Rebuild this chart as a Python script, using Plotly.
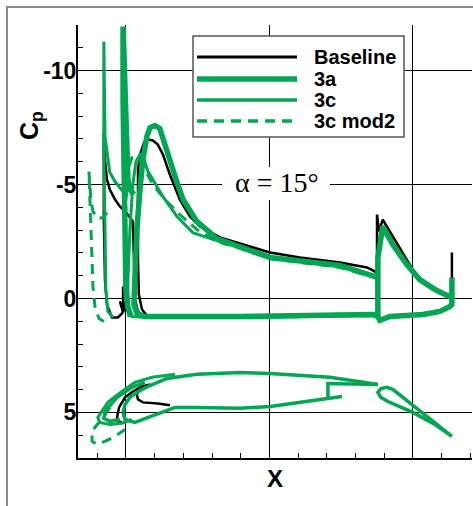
import plotly.graph_objects as go

GREEN = "#00A651"
BLACK = "#000000"

# ---------------- data (x/c , Cp) ----------------
# Baseline pressure distribution (slat, arrow, main, flap)
baseline_x = [-0.010, -0.028, -0.049, -0.066, -0.073, -0.077, -0.077, -0.077, -0.073, -0.066, -0.056, -0.038, -0.021, -0.003, 0.014, 0.024, 0.028, 0.031, 0.042, 0.059, None,
              -0.010, -0.010, -0.021, -0.010, 0.000, None,
              0.878, 0.868, 0.840, 0.746, 0.606, 0.502, 0.397, 0.328, 0.258, 0.223, 0.188, 0.153, 0.129, 0.111, 0.094, 0.077, 0.063, 0.049, 0.042, 0.042, 0.042, 0.045, 0.056, 0.073, 0.118, 0.397, 0.606, 0.861, 0.878, None,
              1.136, 1.136, 1.129, 1.094, 1.035, 0.920, 0.885, 0.875, 0.875, 0.875, 0.882, 0.895, 0.930, 0.979, 1.014, 1.059, 1.105, 1.136]
baseline_cp = [0.61, 0.83, 0.83, 0.26, -0.83, -3.46, -6.10, -7.28, -6.10, -5.22, -4.78, -4.34, -4.04, -3.82, -3.55, -3.38, -1.71, 0.04, 0.57, 0.75, None,
               -0.53, 0.61, 0.13, 0.61, 0.13, None,
               -1.05, -1.18, -1.36, -1.58, -1.80, -2.02, -2.41, -2.68, -3.16, -3.60, -4.34, -5.44, -6.32, -6.75, -6.93, -6.97, -6.84, -6.32, -5.66, -4.34, -1.71, -0.18, 0.48, 0.75, 0.79, 0.79, 0.75, 0.70, 0.75, None,
               -2.02, 0.13, 0.35, 0.57, 0.70, 0.79, 0.96, 0.75, -1.18, -3.68, -2.94, -3.46, -2.72, -1.71, -0.96, -0.48, -0.18, 0.04]

# Configuration 3a
c3a_x = [0.017, 0.007, 0.000, -0.003, -0.007, -0.010, -0.010, -0.003, 0.003, 0.007, 0.014, 0.028, None,
         0.878, 0.868, 0.746, 0.502, 0.432, 0.317, 0.247, 0.199, 0.178, 0.153, 0.136, 0.118, 0.101, 0.084, 0.073, 0.059, 0.049, 0.038, 0.031, 0.028, 0.038, 0.066, 0.397, 0.606, 0.861, 0.878, None,
         1.136, 1.136, 1.129, 1.094, 1.035, 0.920, 0.885, 0.878, 0.878, 0.895, 0.930, 0.979, 1.024, 1.077, 1.111, 1.136]
c3a_cp = [0.75, 0.39, -0.39, -2.59, -5.22, -8.73, -11.93, -9.17, -6.54, -5.22, -4.78, -4.56, None,
          -0.96, -0.96, -1.45, -1.80, -2.11, -2.63, -3.38, -4.34, -5.09, -6.10, -6.84, -7.46, -7.59, -7.50, -7.11, -6.10, -4.78, -3.03, -0.83, 0.26, 0.66, 0.79, 0.79, 0.75, 0.70, 0.79, None,
          -0.92, 0.26, 0.35, 0.57, 0.70, 0.79, 0.96, 0.79, -1.80, -3.16, -2.37, -1.49, -0.83, -0.39, -0.18, -0.04]

# Configuration 3c
c3c_x = [-0.045, -0.063, -0.070, -0.073, -0.077, -0.077, -0.073, -0.056, -0.038, -0.010, 0.007, None,
         0.878, 0.868, 0.746, 0.502, 0.432, 0.317, 0.233, 0.178, 0.129, 0.108, 0.077, 0.063, 0.049, 0.035, 0.024, 0.014, 0.007, 0.007, 0.021, 0.084, 0.397, 0.861, 0.878, None,
         1.136, 1.136, 1.129, 1.094, 1.035, 0.920, 0.885, 0.878, 0.878, 0.895, 0.930, 0.979, 1.024, 1.077, 1.111, 1.136]
c3c_cp = [0.83, 0.57, -0.39, -2.59, -6.54, -11.27, -7.11, -5.53, -5.13, -4.69, -4.52, None,
          -0.88, -0.96, -1.40, -1.80, -2.11, -2.54, -2.89, -3.60, -4.47, -4.91, -5.57, -6.10, -6.32, -6.01, -5.00, -3.03, -0.83, 0.39, 0.79, 0.83, 0.83, 0.75, 0.83, None,
          -0.90, 0.26, 0.35, 0.57, 0.70, 0.79, 0.96, 0.79, -1.80, -3.14, -2.35, -1.47, -0.81, -0.37, -0.16, -0.02]

# Configuration 3c mod2
c3cm2_x = [-0.077, -0.094, -0.108, -0.115, -0.118, -0.122, -0.125, -0.129, -0.122, -0.115, -0.098, -0.080, -0.063, None,
           0.878, 0.868, 0.746, 0.502, 0.432, 0.317, 0.247, 0.188, 0.136, 0.108, 0.084, 0.059, 0.038, 0.021, 0.007, 0.000, -0.003, -0.003, 0.010, 0.084, 0.397, 0.861, 0.878]
c3cm2_cp = [1.01, 0.88, 0.35, -0.53, -1.71, -3.46, -4.78, -5.57, -4.34, -3.82, -3.51, -3.55, -3.82, None,
            -0.83, -0.92, -1.36, -1.75, -2.06, -2.50, -3.03, -3.68, -4.34, -4.78, -5.22, -5.88, -6.23, -6.18, -5.66, -4.34, -2.15, 0.04, 0.75, 0.83, 0.83, 0.75, 0.83]

# Airfoil geometry drawn in the lower part of the chart
geo_main_x = [-0.010, -0.003, 0.014, 0.049, 0.084, 0.143, 0.247, 0.397, 0.502, 0.711, 0.878, None,
              -0.010, -0.003, 0.031, 0.059, 0.101, 0.171, 0.247, 0.397, 0.502, 0.606, 0.704, 0.753, None,
              0.704, 0.704, 0.878, None,
              1.136, 1.049, 0.979, 0.930, 0.909, 0.889, 0.878, 0.889, 0.913, 1.000, 1.077, 1.136]
geo_main_y = [5.00, 4.65, 4.34, 4.04, 3.82, 3.51, 3.33, 3.25, 3.29, 3.46, 3.77, None,
              5.00, 5.31, 5.44, 5.31, 5.09, 4.78, 4.78, 4.82, 4.74, 4.56, 4.39, 4.30, None,
              4.39, 3.73, 3.77, None,
              6.05, 5.18, 4.52, 3.99, 3.90, 3.95, 4.12, 4.34, 4.52, 5.00, 5.53, 6.05]
geo_base_x = [0.084, 0.056, 0.024, -0.003, -0.024, -0.031, -0.028, -0.014, None,
              0.049, 0.038, 0.042, 0.059, 0.111, 0.153]
geo_base_y = [3.77, 3.86, 4.08, 4.34, 4.78, 5.22, 5.39, 5.44, None,
              3.99, 4.21, 4.43, 4.56, 4.61, 4.69]
geo_3a_x = [0.066, 0.021, -0.031, -0.070, -0.077, -0.056, -0.021]
geo_3a_y = [3.68, 3.90, 4.34, 4.91, 5.26, 5.39, 5.31]
geo_3c_x = [0.171, 0.091, 0.031, -0.014, -0.063, -0.098, -0.091, -0.056, -0.014, 0.021]
geo_3c_y = [3.33, 3.46, 3.68, 4.08, 4.56, 5.22, 5.44, 5.53, 5.48, 5.31]
geo_3cm2_x = [-0.056, -0.080, -0.108, -0.118, -0.118, -0.101, -0.073, -0.038, -0.003]
geo_3cm2_y = [4.78, 5.22, 5.66, 5.83, 6.27, 6.40, 6.27, 6.05, 5.75]

legend_names = ["Baseline", "3a", "3c", "3c mod2"]
cp_tick_values = [-10, -5, 0, 5]
cp_tick_labels = ["-10", "-5", "0", "5"]

# ---------------- figure ----------------
fig = go.Figure()

def add(x, y, color, width, dash="solid"):
    fig.add_trace(go.Scatter(x=x, y=y, mode="lines", showlegend=False, hoverinfo="skip",
                             line=dict(color=color, width=width, dash=dash)))

DASH = "10px,7px"
add(geo_base_x, geo_base_y, BLACK, 2.5)
add(geo_main_x, geo_main_y, GREEN, 3.5)
add(geo_3a_x, geo_3a_y, GREEN, 3.5)
add(geo_3c_x, geo_3c_y, GREEN, 3)
add(geo_3cm2_x, geo_3cm2_y, GREEN, 3, DASH)

add(baseline_x, baseline_cp, BLACK, 2.5)
add(c3a_x, c3a_cp, GREEN, 5.5)
add(c3c_x, c3c_cp, GREEN, 3)
add(c3cm2_x, c3cm2_cp, GREEN, 3, DASH)

# pixel -> paper helpers (plot area: left 78, top 25, 394 x 433)
PL, PT, PW, PH = 78, 25, 394, 433
def xp(px):
    return (px - PL) / PW
def yp(py):
    return (PT + PH - py) / PH

FONT = "Liberation Sans, Arial, sans-serif"
shapes = [
    dict(type="rect", xref="paper", yref="paper", x0=xp(7), y0=yp(700), x1=xp(700), y1=yp(7),
         line=dict(color="#8a8a8a", width=2), layer="below"),
    dict(type="rect", xref="paper", yref="paper", x0=xp(222), x1=xp(330), y0=yp(200), y1=yp(167),
         fillcolor="white", line=dict(width=0), layer="above"),
    dict(type="rect", xref="paper", yref="paper", x0=xp(193), x1=xp(404), y0=yp(137), y1=yp(36),
         fillcolor="white", line=dict(color="#555555", width=1.5), layer="above"),
]
legend_styles = [(BLACK, 3, "solid", 57), (GREEN, 5.5, "solid", 79), (GREEN, 3.3, "solid", 100), (GREEN, 3.3, DASH, 121)]
annotations = []
for name, (col, w, d, py) in zip(legend_names, legend_styles):
    shapes.append(dict(type="line", xref="paper", yref="paper", x0=xp(197), x1=xp(297), y0=yp(py), y1=yp(py),
                       line=dict(color=col, width=w, dash=d), layer="above"))
    annotations.append(dict(text=name, xref="paper", yref="paper", x=xp(312), y=yp(py), xanchor="left", yanchor="middle",
                            showarrow=False,
                            font=dict(family=FONT, size=20, color="black", weight="bold")))

annotations += [
    dict(text="C<sub>p</sub>", xref="paper", yref="paper", x=xp(31), y=yp(126), textangle=-90,
         xanchor="center", yanchor="middle", showarrow=False,
         font=dict(family=FONT, size=25, color="black", weight="bold")),
    dict(text="X", xref="paper", yref="paper", x=xp(275), y=yp(478), xanchor="center", yanchor="middle",
         showarrow=False, font=dict(family=FONT, size=24, color="black", weight="bold")),
    dict(text="α = 15°", xref="paper", yref="paper", x=xp(277), y=yp(183), xanchor="center", yanchor="middle",
         showarrow=False, font=dict(family="Liberation Serif, Times New Roman, serif", size=28, color="black")),
]

axis_common = dict(showgrid=True, gridcolor="black", gridwidth=1, zeroline=False,
                   showline=True, linecolor="black", linewidth=2,
                   ticks="inside", ticklen=5, tickcolor="black", tickwidth=1)

fig.update_layout(
    width=473, height=506,
    margin=dict(l=PL, r=473 - PL - PW, t=PT, b=506 - PT - PH),
    paper_bgcolor="white", plot_bgcolor="white",
    showlegend=False,
    xaxis=dict(range=[-0.167, 1.206], tick0=0, dtick=0.5, showticklabels=False,
               minor=dict(dtick=0.1, tick0=0, ticks="inside", ticklen=5, tickcolor="black", showgrid=False),
               **axis_common),
    yaxis=dict(range=[7, -12], tickmode="array", tickvals=cp_tick_values, ticktext=cp_tick_labels,
               ticklabelstandoff=-5,
               tickfont=dict(family=FONT, size=23, color="black", weight="bold"),
               minor=dict(tickmode="linear", dtick=1, tick0=0, ticks="inside", ticklen=5, tickcolor="black", showgrid=False),
               **axis_common),
    shapes=shapes,
    annotations=annotations,
)

fig.write_html("out.html")
